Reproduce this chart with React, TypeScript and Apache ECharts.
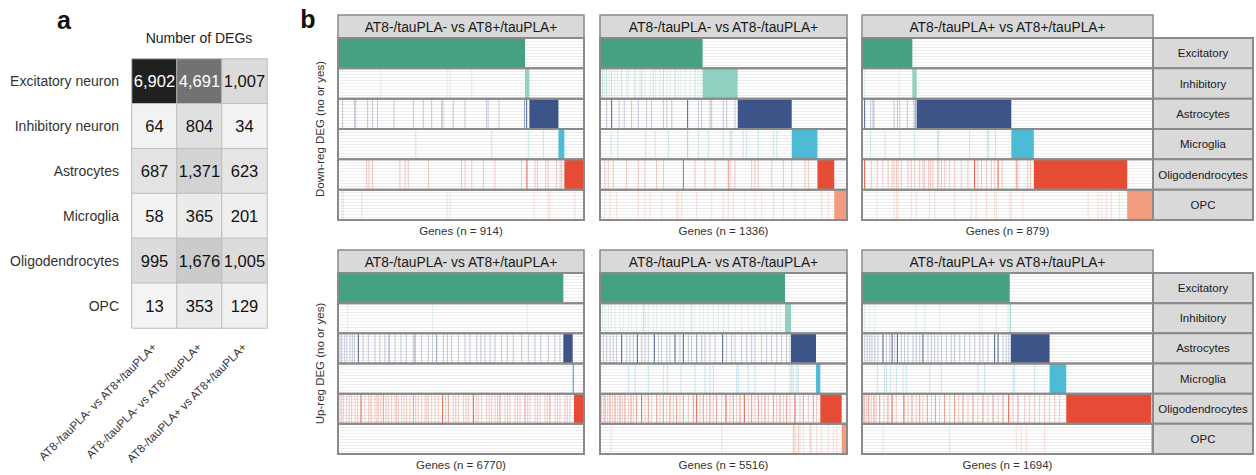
import React, { useEffect, useRef } from 'react';
import * as echarts from 'echarts';

// ---------- panel a : number of DEGs per cell type and comparison ----------
const comparisons = [
  'AT8-/tauPLA- vs AT8+/tauPLA+',
  'AT8-/tauPLA- vs AT8-/tauPLA+',
  'AT8-/tauPLA+ vs AT8+/tauPLA+',
];
const degRowLabels = ['Excitatory neuron', 'Inhibitory neuron', 'Astrocytes', 'Microglia', 'Oligodendrocytes', 'OPC'];
const degCounts = [
  [6902, 4691, 1007],
  [64, 804, 34],
  [687, 1371, 623],
  [58, 365, 201],
  [995, 1676, 1005],
  [13, 353, 129],
];

// ---------- panel b : per-gene DEG membership ----------
const cellTypes = ['Excitatory', 'Inhibitory', 'Astrocytes', 'Microglia', 'Oligodendrocytes', 'OPC'];
const cellColors = ['#45A084', '#91D1C2', '#3C5488', '#4DBBD5', '#E64B35', '#F39B7F'];

const downGeneTotals = [914, 1336, 879];
const upGeneTotals = [6770, 5516, 1694];

// contiguous runs of genes specific to each cell type [first gene, last gene]
type Run = [number, number] | null;
const downBlocks: Run[][] = [
  [[0, 695], [695, 711], [711, 819], [819, 841], [841, 914], null],
  [[0, 555], [555, 745], [745, 1037], [1037, 1176], [1176, 1267], [1267, 1336]],
  [[0, 152], [152, 165], [165, 451], [451, 519], [519, 801], [801, 879]],
];
const upBlocks: Run[][] = [
  [[0, 6201], null, [6201, 6458], [6458, 6495], [6495, 6770], null],
  [[0, 4131], [4131, 4265], [4265, 4824], [4824, 4920], [4920, 5397], [5397, 5516]],
  [[0, 860], [860, 866], [866, 1092], [1092, 1189], [1189, 1684], [1684, 1694]],
];

// shared genes: [gene index, intensity level 1..3]
type Hit = [number, number];
const downHits: Hit[][][] = [
  [
    [],
    [[160, 1], [406, 1], [417, 1], [497, 1]],
    [[17, 1], [61, 1], [66, 1], [110, 1], [128, 1], [147, 1], [208, 1], [280, 1], [317, 1], [348, 1], [385, 1], [390, 1], [428, 1], [472, 1], [552, 1], [558, 1], [598, 1], [693, 2], [701, 3]],
    [[289, 1], [571, 1], [707, 1], [763, 1]],
    [[107, 1], [115, 1], [128, 1], [230, 1], [249, 1], [261, 1], [336, 1], [459, 1], [472, 1], [497, 1], [540, 1], [583, 1], [682, 1], [702, 3], [732, 1], [741, 1], [772, 1], [781, 1], [812, 1], [825, 1], [831, 1]],
    [[14, 1], [20, 1], [88, 1], [406, 1], [416, 1], [729, 1], [781, 1], [788, 1], [880, 1]],
  ],
  [
    [],
    [[13, 2], [23, 1], [36, 2], [49, 1], [63, 2], [81, 1], [96, 1], [117, 2], [144, 1], [153, 1], [189, 2], [216, 1], [225, 2], [243, 1], [270, 1], [288, 2], [301, 1], [325, 1], [343, 2], [361, 1], [379, 1], [406, 2], [424, 1], [438, 1], [460, 1], [487, 1], [514, 2], [532, 1], [546, 1]],
    [[36, 1], [63, 3], [103, 1], [131, 1], [171, 1], [207, 1], [252, 1], [279, 1], [343, 1], [361, 1], [388, 1], [474, 3], [532, 1], [550, 1], [595, 1], [604, 1], [667, 1], [685, 1], [730, 1]],
    [[60, 1], [96, 1], [247, 1], [298, 1], [370, 1], [474, 2], [532, 1], [586, 1], [667, 1], [703, 1], [712, 1], [775, 1], [793, 1], [856, 1], [938, 1], [956, 1]],
    [[27, 1], [45, 1], [72, 1], [144, 1], [207, 1], [243, 1], [306, 1], [343, 1], [451, 3], [514, 1], [568, 1], [622, 1], [694, 2], [703, 1], [730, 1], [820, 1], [838, 1], [856, 1], [929, 1], [992, 1], [1037, 1], [1109, 1], [1127, 1]],
    [[27, 1], [54, 1], [90, 1], [207, 1], [243, 1], [270, 1], [334, 1], [415, 1], [424, 1], [442, 1], [523, 1], [604, 1], [667, 1], [694, 1], [721, 1], [784, 1], [838, 1], [874, 1], [938, 1], [992, 1], [1055, 1], [1109, 1], [1199, 1], [1235, 1]],
  ],
  [
    [],
    [[8, 1], [112, 1]],
    [[8, 3], [26, 1], [33, 1], [36, 1], [97, 1], [107, 1], [114, 1], [137, 1], [157, 1], [161, 2]],
    [[26, 1], [70, 1], [114, 1], [159, 1], [228, 1], [232, 1], [325, 1], [379, 1], [383, 1], [403, 1]],
    [[8, 3], [28, 1], [46, 1], [63, 1], [79, 1], [91, 1], [97, 1], [104, 1], [109, 1], [119, 1], [139, 1], [149, 1], [159, 1], [174, 1], [184, 1], [189, 1], [201, 1], [207, 1], [214, 1], [228, 1], [232, 1], [240, 1], [250, 1], [265, 1], [280, 1], [300, 1], [320, 1], [340, 3], [350, 1], [361, 1], [376, 1], [391, 1], [401, 1], [411, 3], [423, 1], [466, 2], [471, 1], [501, 1], [509, 1]],
    [[46, 1], [97, 1], [104, 1], [109, 1], [149, 1], [164, 1], [204, 1], [220, 1], [280, 1], [330, 1], [345, 1], [376, 1], [401, 1], [406, 1], [446, 1], [451, 1], [486, 1], [683, 1], [713, 1], [723, 1], [738, 1], [753, 1], [778, 1]],
  ],
];
const upHits: Hit[][][] = [
  [
    [],
    [[266, 1], [2596, 1], [5211, 1]],
    [[55, 1], [101, 1], [174, 1], [239, 1], [330, 1], [394, 1], [450, 1], [560, 3], [690, 1], [835, 1], [1018, 1], [1150, 1], [1290, 1], [1404, 2], [1569, 1], [1734, 1], [1880, 1], [2073, 1], [2119, 2], [2302, 1], [2486, 1], [2600, 1], [2715, 2], [2899, 1], [3010, 1], [3128, 1], [3312, 1], [3495, 1], [3633, 1], [3816, 1], [3930, 1], [4045, 1], [4183, 1], [4321, 1], [4504, 1], [4660, 1], [4825, 1], [5054, 1], [5238, 1], [5421, 1], [5577, 1], [5788, 1], [5972, 1], [6109, 1]],
    [],
    [[55, 1], [100, 1], [147, 1], [239, 1], [310, 1], [376, 1], [468, 1], [540, 1], [633, 3], [743, 1], [835, 1], [880, 1], [927, 1], [1018, 1], [1070, 1], [1110, 1], [1180, 1], [1248, 2], [1320, 1], [1385, 1], [1477, 1], [1569, 1], [1610, 1], [1660, 1], [1752, 1], [1820, 1], [1890, 1], [1981, 1], [2073, 2], [2140, 1], [2211, 1], [2302, 1], [2394, 1], [2440, 1], [2486, 1], [2578, 1], [2669, 1], [2760, 1], [2880, 3], [2960, 1], [3036, 2], [3174, 1], [3240, 1], [3312, 1], [3449, 1], [3520, 1], [3587, 1], [3724, 3], [3800, 1], [3862, 1], [3954, 1], [4091, 1], [4160, 1], [4229, 1], [4321, 1], [4390, 1], [4458, 2], [4596, 1], [4670, 1], [4733, 1], [4871, 1], [4940, 1], [5009, 1], [5146, 2], [5220, 1], [5284, 1], [5421, 1], [5490, 1], [5559, 1], [5697, 1], [5760, 1], [5834, 2], [5972, 1], [6040, 1], [6109, 1], [6247, 1], [6310, 1], [6385, 1]],
    [],
  ],
  [
    [],
    [[52, 1], [112, 1], [186, 1], [246, 1], [335, 1], [447, 1], [521, 1], [633, 1], [707, 1], [819, 1], [968, 2], [1005, 1], [1079, 1], [1191, 1], [1265, 1], [1377, 1], [1489, 1], [1563, 1], [1675, 1], [1786, 1], [1861, 1], [2047, 2], [2121, 1], [2233, 1], [2307, 1], [2419, 1], [2531, 1], [2642, 1], [2754, 1], [2866, 1], [3015, 1], [3163, 1], [3312, 1], [3461, 1], [3573, 1], [3684, 1], [3833, 1], [3945, 1], [4019, 1]],
    [[74, 1], [149, 1], [223, 1], [298, 1], [372, 1], [484, 3], [595, 1], [670, 1], [744, 1], [834, 3], [930, 1], [1005, 1], [1079, 1], [1213, 3], [1303, 1], [1377, 1], [1489, 1], [1563, 1], [1675, 3], [1786, 1], [1861, 3], [1973, 1], [2047, 1], [2159, 2], [2270, 1], [2345, 1], [2456, 1], [2568, 1], [2739, 3], [2828, 1], [2940, 1], [3015, 1], [3163, 1], [3275, 1], [3387, 1], [3461, 1], [3610, 1], [3722, 1], [3833, 1], [3945, 1], [4057, 1], [4168, 1], [4243, 1]],
    [[633, 1], [782, 1], [1079, 1], [1414, 1], [1511, 1], [1809, 1], [2121, 1], [2345, 1], [2456, 1], [2531, 1], [3052, 1], [3089, 1], [3312, 1], [3461, 1], [3908, 1], [4243, 1], [4280, 1], [4317, 1], [4392, 1], [4429, 1]],
    [[22, 2], [74, 1], [112, 2], [171, 1], [223, 2], [275, 1], [335, 2], [395, 1], [447, 2], [499, 1], [558, 2], [633, 1], [692, 2], [744, 1], [819, 2], [930, 3], [1005, 1], [1079, 2], [1154, 1], [1265, 2], [1340, 1], [1414, 2], [1489, 1], [1563, 2], [1638, 1], [1712, 2], [1786, 1], [1861, 2], [1973, 1], [2084, 2], [2159, 3], [2233, 1], [2307, 2], [2382, 1], [2456, 2], [2531, 1], [2605, 2], [2717, 1], [2814, 3], [2903, 1], [2977, 2], [3052, 1], [3126, 2], [3223, 3], [3312, 1], [3387, 2], [3461, 1], [3536, 2], [3610, 1], [3684, 2], [3759, 1], [3871, 2], [3945, 1], [4019, 2], [4094, 1], [4168, 2], [4243, 1], [4354, 3], [4466, 1], [4541, 2], [4652, 1], [4764, 2], [4838, 1]],
    [[246, 1], [2717, 1], [4317, 2], [4354, 2], [4429, 2], [4466, 1], [4541, 1], [4689, 2], [4727, 1], [4838, 1], [4950, 1], [5099, 1], [5210, 1], [5285, 1]],
  ],
  [
    [],
    [[16, 1], [45, 1], [74, 1], [316, 1], [365, 1], [452, 1], [685, 1], [699, 1], [782, 1], [850, 1]],
    [[16, 1], [31, 1], [45, 1], [58, 1], [74, 1], [93, 1], [122, 3], [142, 1], [161, 1], [175, 3], [190, 1], [206, 3], [229, 1], [248, 1], [268, 1], [297, 1], [316, 1], [336, 1], [355, 3], [384, 1], [404, 1], [423, 1], [442, 1], [462, 1], [491, 1], [520, 1], [539, 1], [569, 1], [598, 1], [627, 1], [656, 1], [685, 1], [704, 1], [733, 1], [772, 3], [792, 3], [821, 1], [840, 1], [854, 1]],
    [[89, 1], [132, 1], [142, 1], [167, 1], [200, 1], [239, 1], [258, 1], [394, 1], [462, 1], [675, 1], [714, 1], [879, 1], [889, 1], [1005, 1]],
    [[12, 2], [25, 1], [39, 2], [54, 1], [70, 2], [83, 1], [103, 2], [128, 1], [151, 2], [175, 3], [200, 1], [244, 3], [268, 1], [291, 2], [316, 1], [336, 2], [355, 1], [380, 2], [404, 1], [427, 2], [452, 1], [481, 2], [510, 1], [539, 2], [563, 1], [588, 2], [617, 1], [646, 2], [675, 1], [704, 2], [733, 1], [763, 2], [792, 1], [821, 2], [854, 3], [879, 1], [908, 2], [947, 1], [976, 1], [1005, 1], [1034, 1], [1063, 1], [1092, 1], [1122, 1], [1151, 1]],
    [[122, 1], [510, 1], [898, 1], [927, 1], [957, 1], [1063, 1]],
  ],
];

const levelOpacity = [0, 0.3, 0.55, 0.92];

// ---------- layout ----------
const FONT = '"Liberation Sans", Arial, Helvetica, sans-serif';
const facetCols = [
  { left: 338, width: 246 },
  { left: 600, width: 247 },
  { left: 862, width: 291 },
];
const sections = [
  { stripTop: 15, top: 38, height: 182, title: 'Down-reg DEG (no or yes)', totals: downGeneTotals, blocks: downBlocks, hits: downHits },
  { stripTop: 250, top: 273, height: 181, title: 'Up-reg DEG (no or yes)', totals: upGeneTotals, blocks: upBlocks, hits: upHits },
];
const rightStrip = { left: 1153, width: 100 };
const FRAME = '#8a8a8a';
const STRIP_FILL = '#d9d9d9';

function buildOption() {
  const grid: any[] = [{ left: 132, top: 59, width: 135, height: 269 }];
  const xAxis: any[] = [
    {
      type: 'category',
      gridIndex: 0,
      data: comparisons,
      axisLine: { show: false },
      axisTick: { show: false },
      axisLabel: { rotate: 45, interval: 0, fontSize: 11.5, color: '#333', fontFamily: FONT, margin: 17 },
    },
  ];
  const yAxis: any[] = [
    {
      type: 'category',
      gridIndex: 0,
      data: degRowLabels,
      inverse: true,
      axisLine: { show: false },
      axisTick: { show: false },
      axisLabel: { fontSize: 14, color: '#333', fontFamily: FONT, margin: 13 },
    },
  ];
  const heatData: any[] = [];
  degCounts.forEach((row, r) =>
    row.forEach((v, c) =>
      heatData.push({ value: [c, r, v], label: { color: v > 3000 ? '#ffffff' : '#111111' } })
    )
  );
  const series: any[] = [
    {
      type: 'heatmap',
      xAxisIndex: 0,
      yAxisIndex: 0,
      data: heatData,
      itemStyle: { borderColor: '#bdbdbd', borderWidth: 1 },
      label: {
        show: true,
        fontSize: 16.5,
        fontFamily: FONT,
        formatter: (p: any) => Number(p.value[2]).toLocaleString('en-US'),
      },
    },
  ];

  const graphic: any[] = [
    { type: 'text', x: 64, y: 20, style: { text: 'a', fontSize: 25, fontWeight: 'bold', fontFamily: FONT, fill: '#111', textAlign: 'center', textVerticalAlign: 'middle' } },
    { type: 'text', x: 308, y: 19, style: { text: 'b', fontSize: 25, fontWeight: 'bold', fontFamily: FONT, fill: '#111', textAlign: 'center', textVerticalAlign: 'middle' } },
    { type: 'text', x: 199, y: 38, style: { text: 'Number of DEGs', fontSize: 14, fontFamily: FONT, fill: '#222', textAlign: 'center', textVerticalAlign: 'middle' } },
  ];

  sections.forEach((sec) => {
    facetCols.forEach((col, c) => {
      const gi = grid.length;
      const total = sec.totals[c];
      grid.push({ left: col.left, top: sec.top, width: col.width, height: sec.height });
      xAxis.push({
        type: 'value',
        gridIndex: gi,
        min: 0,
        max: total,
        axisLine: { show: false },
        axisTick: { show: false },
        axisLabel: { show: false },
        splitLine: { show: false },
        name: `Genes (n = ${total})`,
        nameLocation: 'middle',
        nameGap: 5,
        nameTextStyle: { fontSize: 11.5, color: '#333', fontFamily: FONT, verticalAlign: 'top' },
      });
      yAxis.push({
        type: 'value',
        gridIndex: gi,
        min: 0,
        max: 60,
        interval: 1,
        inverse: true,
        axisLine: { show: false },
        axisTick: { show: false },
        axisLabel: { show: false },
        splitLine: { show: true, lineStyle: { color: '#eeeeee', width: 1 } },
        name: c === 0 ? sec.title : '',
        nameLocation: 'middle',
        nameRotate: 90,
        nameGap: 12,
        nameTextStyle: { fontSize: 11.5, color: '#333', fontFamily: FONT },
      });

      // [kind, row, a, b]: kind 0 = block (a..b), 1 = single gene (a, level b), 2 = row frame
      const data: number[][] = [];
      sec.blocks[c].forEach((run, r) => {
        if (run) data.push([0, r, run[0], run[1]]);
      });
      sec.hits[c].forEach((list, r) => list.forEach(([g, lvl]) => data.push([1, r, g, lvl])));
      cellTypes.forEach((_, r) => data.push([2, r, 0, total]));

      series.push({
        type: 'custom',
        xAxisIndex: gi,
        yAxisIndex: gi,
        data,
        encode: { x: 2, y: 1 },
        renderItem: (_params: any, api: any) => {
          const kind = api.value(0);
          const row = api.value(1);
          const a = api.value(2);
          const b = api.value(3);
          const y0 = api.coord([0, row * 10])[1];
          const y1 = api.coord([0, row * 10 + 10])[1];
          if (kind === 0) {
            const x0 = api.coord([a, 0])[0];
            const x1 = api.coord([b, 0])[0];
            return {
              type: 'rect',
              shape: { x: x0, y: y0, width: x1 - x0, height: y1 - y0 },
              style: { fill: cellColors[row] },
            };
          }
          if (kind === 1) {
            const x = api.coord([a, 0])[0];
            const w = Math.max(1, api.size([1, 0])[0]);
            return {
              type: 'rect',
              shape: { x: x - w / 2, y: y0, width: w, height: y1 - y0 },
              style: { fill: cellColors[row], opacity: levelOpacity[b] },
            };
          }
          const x0 = api.coord([a, 0])[0];
          const x1 = api.coord([b, 0])[0];
          return {
            type: 'rect',
            shape: { x: x0, y: y0, width: x1 - x0, height: y1 - y0 },
            style: { fill: 'none', stroke: FRAME, lineWidth: 2 },
          };
        },
      });

      // column strip header
      graphic.push({
        type: 'rect',
        shape: { x: col.left, y: sec.stripTop, width: col.width, height: sec.top - sec.stripTop },
        style: { fill: STRIP_FILL, stroke: FRAME, lineWidth: 1.5 },
      });
      graphic.push({
        type: 'text',
        x: col.left + col.width / 2,
        y: (sec.stripTop + sec.top) / 2 + 0.5,
        style: { text: comparisons[c], fontSize: 13.8, fontFamily: FONT, fill: '#1a1a1a', textAlign: 'center', textVerticalAlign: 'middle' },
      });
    });

    // row strips on the right
    const rowH = sec.height / cellTypes.length;
    cellTypes.forEach((name, r) => {
      const y = sec.top + r * rowH;
      graphic.push({
        type: 'rect',
        shape: { x: rightStrip.left, y, width: rightStrip.width, height: rowH },
        style: { fill: STRIP_FILL, stroke: FRAME, lineWidth: 2 },
      });
      graphic.push({
        type: 'text',
        x: rightStrip.left + rightStrip.width / 2,
        y: y + rowH / 2,
        style: { text: name, fontSize: 11.5, fontFamily: FONT, fill: '#1a1a1a', textAlign: 'center', textVerticalAlign: 'middle' },
      });
    });
  });

  return {
    animation: false,
    backgroundColor: '#ffffff',
    textStyle: { fontFamily: FONT },
    grid,
    xAxis,
    yAxis,
    visualMap: [
      {
        show: false,
        type: 'continuous',
        seriesIndex: 0,
        dimension: 2,
        min: 0,
        max: 6902,
        inRange: { color: ['#f4f4f4', '#a0a0a0', '#202020'] },
      },
    ],
    series,
    graphic,
  };
}

export default function App() {
  const ref = useRef<HTMLDivElement>(null);
  useEffect(() => {
    if (!ref.current) return;
    const chart = echarts.init(ref.current, undefined, { renderer: 'svg' });
    chart.setOption(buildOption() as any);
    return () => chart.dispose();
  }, []);
  return <div ref={ref} style={{ position: 'fixed', left: 0, top: 0, width: 1256, height: 475 }} />;
}
